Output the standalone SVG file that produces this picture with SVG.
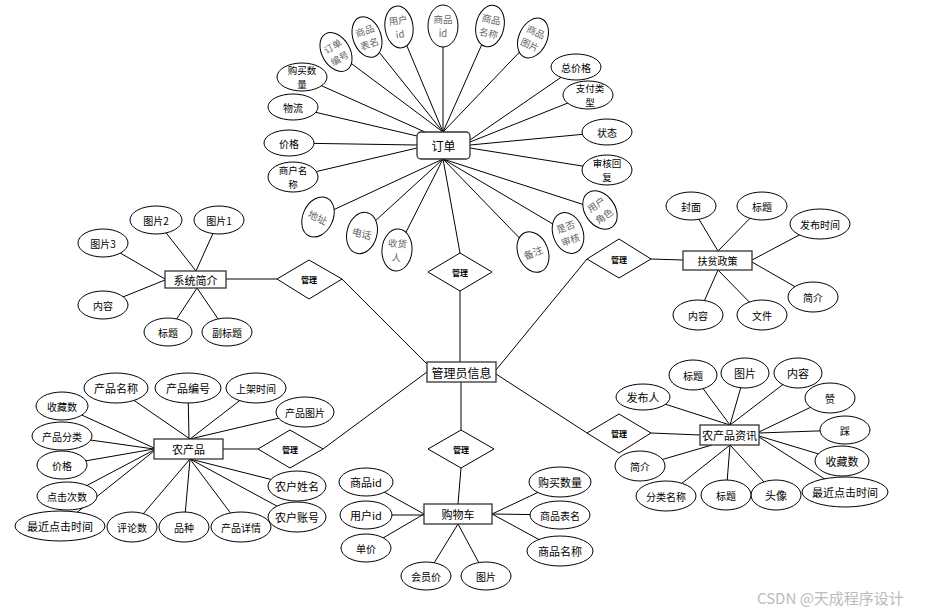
<svg xmlns="http://www.w3.org/2000/svg" width="932" height="612" viewBox="0 0 932 612">
<style>
.e{fill:#fff;stroke:#000;stroke-width:1}
.b{fill:#fff;stroke:#333;stroke-width:1.3}
.d{fill:#fff;stroke:#000;stroke-width:1}
.c line{stroke:#000;stroke-width:1}
text{font-family:"Noto Sans CJK SC","Noto Sans",sans-serif;font-size:11px;fill:#000;text-anchor:middle;dominant-baseline:central}
.g{fill:#666}
.t2{font-size:9.5px}
.m{font-size:8px;font-weight:bold}
.k{font-size:12px}
.s{font-size:10px}
.w{fill:#bbb;font-size:15px;text-anchor:start}
</style>
<rect width="932" height="612" fill="#fff"/>
<g id="connectors" class="c">
<line x1="336" y1="52" x2="443" y2="132"/>
<line x1="367" y1="37" x2="443" y2="132"/>
<line x1="399" y1="27" x2="443" y2="132"/>
<line x1="443" y1="26" x2="443" y2="132"/>
<line x1="490" y1="26" x2="443" y2="132"/>
<line x1="533" y1="38" x2="443" y2="132"/>
<line x1="302" y1="77" x2="425" y2="132"/>
<line x1="293" y1="107" x2="417" y2="136"/>
<line x1="576" y1="67" x2="470" y2="140"/>
<line x1="588" y1="95" x2="470" y2="142"/>
<line x1="289" y1="143" x2="417" y2="145"/>
<line x1="293" y1="177" x2="417" y2="148"/>
<line x1="607" y1="132" x2="470" y2="145"/>
<line x1="607" y1="170" x2="470" y2="148"/>
<line x1="318" y1="217" x2="443" y2="159"/>
<line x1="362" y1="233" x2="443" y2="159"/>
<line x1="397" y1="250" x2="443" y2="159"/>
<line x1="533" y1="252" x2="443" y2="159"/>
<line x1="568" y1="233" x2="443" y2="159"/>
<line x1="600" y1="210" x2="443" y2="159"/>
<line x1="443" y1="159" x2="460" y2="253"/>
<line x1="460" y1="291" x2="460" y2="362"/>
<line x1="342" y1="279" x2="427" y2="364"/>
<line x1="323" y1="449" x2="427" y2="372"/>
<line x1="496" y1="370" x2="587" y2="259"/>
<line x1="496" y1="374" x2="587" y2="433"/>
<line x1="461" y1="382" x2="461" y2="430"/>
<line x1="461" y1="468" x2="458" y2="504"/>
<line x1="226" y1="279" x2="277" y2="279"/>
<line x1="156" y1="220" x2="196" y2="271"/>
<line x1="219" y1="220" x2="196" y2="271"/>
<line x1="103" y1="243" x2="165" y2="279"/>
<line x1="103" y1="305" x2="165" y2="280"/>
<line x1="168" y1="332" x2="197" y2="288"/>
<line x1="227" y1="332" x2="197" y2="288"/>
<line x1="651" y1="259" x2="683" y2="260"/>
<line x1="691" y1="206" x2="718" y2="251"/>
<line x1="762" y1="206" x2="718" y2="251"/>
<line x1="820" y1="224" x2="752" y2="260"/>
<line x1="813" y1="297" x2="752" y2="262"/>
<line x1="698" y1="315" x2="718" y2="270"/>
<line x1="762" y1="315" x2="718" y2="270"/>
<line x1="651" y1="433" x2="700" y2="435"/>
<line x1="643" y1="397" x2="730" y2="425"/>
<line x1="693" y1="375" x2="730" y2="425"/>
<line x1="745" y1="373" x2="730" y2="425"/>
<line x1="798" y1="373" x2="730" y2="425"/>
<line x1="830" y1="398" x2="759" y2="432"/>
<line x1="845" y1="430" x2="759" y2="433"/>
<line x1="842" y1="461" x2="759" y2="436"/>
<line x1="845" y1="492" x2="759" y2="437"/>
<line x1="776" y1="495" x2="730" y2="445"/>
<line x1="726" y1="495" x2="730" y2="445"/>
<line x1="666" y1="496" x2="730" y2="445"/>
<line x1="640" y1="466" x2="712" y2="445"/>
<line x1="223" y1="449" x2="258" y2="449"/>
<line x1="116" y1="388" x2="190" y2="439"/>
<line x1="188" y1="388" x2="189" y2="439"/>
<line x1="256" y1="388" x2="190" y2="439"/>
<line x1="305" y1="412" x2="190" y2="439"/>
<line x1="62" y1="406" x2="154" y2="448"/>
<line x1="62" y1="436" x2="154" y2="449"/>
<line x1="62" y1="465" x2="154" y2="449"/>
<line x1="67" y1="496" x2="154" y2="450"/>
<line x1="60" y1="526" x2="154" y2="451"/>
<line x1="132" y1="527" x2="190" y2="459"/>
<line x1="184" y1="527" x2="190" y2="459"/>
<line x1="241" y1="527" x2="190" y2="459"/>
<line x1="297" y1="486" x2="190" y2="459"/>
<line x1="297" y1="517" x2="190" y2="459"/>
<line x1="366" y1="482" x2="424" y2="514"/>
<line x1="366" y1="515" x2="424" y2="515"/>
<line x1="366" y1="548" x2="424" y2="514"/>
<line x1="426" y1="576" x2="458" y2="524"/>
<line x1="486" y1="576" x2="458" y2="524"/>
<line x1="560" y1="482" x2="492" y2="514"/>
<line x1="560" y1="515" x2="492" y2="514"/>
<line x1="560" y1="551" x2="492" y2="514"/>
</g>

<g id="order">
<rect class="b" x="417" y="132" width="53" height="27" rx="4"/>
<text x="443.5" y="145.5" class="k">订单</text>
</g>
<g id="order-attrs">
<g transform="translate(336,52) rotate(-30)"><ellipse class="e" rx="14" ry="21"/><text class="g t2"><tspan x="0" y="-7">订单</tspan><tspan x="0" y="7">编号</tspan></text></g>
<g transform="translate(367,37) rotate(-20)"><ellipse class="e" rx="14" ry="21"/><text class="g t2"><tspan x="0" y="-7">商品</tspan><tspan x="0" y="7">表名</tspan></text></g>
<g transform="translate(399,27) rotate(-8)"><ellipse class="e" rx="14" ry="21"/><text class="g t2"><tspan x="0" y="-7">用户</tspan><tspan x="0" y="7">id</tspan></text></g>
<g transform="translate(443,26)"><ellipse class="e" rx="15" ry="21"/><text class="g t2"><tspan x="0" y="-7">商品</tspan><tspan x="0" y="7">id</tspan></text></g>
<g transform="translate(490,26) rotate(12)"><ellipse class="e" rx="14" ry="21"/><text class="g t2"><tspan x="0" y="-7">商品</tspan><tspan x="0" y="7">名称</tspan></text></g>
<g transform="translate(533,38) rotate(25)"><ellipse class="e" rx="14" ry="21"/><text class="g t2"><tspan x="0" y="-7">商品</tspan><tspan x="0" y="7">图片</tspan></text></g>
<g><ellipse class="e" cx="302" cy="77" rx="25" ry="14"/><text class="t2"><tspan x="302" y="70">购买数</tspan><tspan x="302" y="84">量</tspan></text></g>
<g><ellipse class="e" cx="293" cy="107" rx="25" ry="13"/><text x="293" y="107" class="s">物流</text></g>
<g><ellipse class="e" cx="289" cy="143" rx="25" ry="13"/><text x="289" y="143" class="s">价格</text></g>
<g><ellipse class="e" cx="293" cy="177" rx="25" ry="15"/><text class="t2"><tspan x="293" y="170">商户名</tspan><tspan x="293" y="184">称</tspan></text></g>
<g><ellipse class="e" cx="576" cy="67" rx="25" ry="13"/><text x="576" y="67" class="s">总价格</text></g>
<g><ellipse class="e" cx="588" cy="95" rx="25" ry="14"/><text class="t2"><tspan x="590" y="88">支付类</tspan><tspan x="590" y="102">型</tspan></text></g>
<g><ellipse class="e" cx="607" cy="132" rx="25" ry="13"/><text x="607" y="132" class="s">状态</text></g>
<g><ellipse class="e" cx="607" cy="170" rx="25" ry="15"/><text class="t2"><tspan x="607" y="163">审核回</tspan><tspan x="607" y="177">复</tspan></text></g>
<g transform="translate(318,217) rotate(25)"><ellipse class="e" rx="15" ry="21"/><text class="g s" x="0" y="0">地址</text></g>
<g transform="translate(362,233) rotate(15)"><ellipse class="e" rx="15" ry="21"/><text class="g s" x="0" y="0">电话</text></g>
<g transform="translate(397,250) rotate(5)"><ellipse class="e" rx="15" ry="21"/><text class="g t2"><tspan x="0" y="-7">收货</tspan><tspan x="0" y="7">人</tspan></text></g>
<g transform="translate(533,252) rotate(-22)"><ellipse class="e" rx="15" ry="21"/><text class="g s" x="0" y="0">备注</text></g>
<g transform="translate(568,233) rotate(-20)"><ellipse class="e" rx="15" ry="21"/><text class="g t2"><tspan x="0" y="-7">是否</tspan><tspan x="0" y="7">审核</tspan></text></g>
<g transform="translate(600,210) rotate(-35)"><ellipse class="e" rx="15" ry="21"/><text class="g t2"><tspan x="0" y="-7">用户</tspan><tspan x="0" y="7">角色</tspan></text></g>
</g>
<g id="rel-order"><polygon class="d" points="460,253 492,272 460,291 428,272"/><text x="460" y="272" class="m">管理</text></g>

<g id="admin"><rect class="b" x="427" y="362" width="69" height="20"/><text x="461.5" y="372" class="k">管理员信息</text></g>

<g id="sys"><rect class="b" x="165" y="271" width="61" height="17"/><text x="195.5" y="279.5">系统简介</text></g>
<g id="rel-sys"><polygon class="d" points="309,260 342,279 309,299 277,279"/><text x="309" y="279" class="m">管理</text></g>
<g id="sys-attrs">
<ellipse class="e" cx="156" cy="220" rx="26" ry="14"/><text x="156" y="220" class="s">图片2</text>
<ellipse class="e" cx="219" cy="220" rx="25" ry="14"/><text x="219" y="220" class="s">图片1</text>
<ellipse class="e" cx="103" cy="243" rx="25" ry="14"/><text x="103" y="243" class="s">图片3</text>
<ellipse class="e" cx="103" cy="305" rx="25" ry="14"/><text x="103" y="305" class="s">内容</text>
<ellipse class="e" cx="168" cy="332" rx="24" ry="14"/><text x="168" y="332" class="s">标题</text>
<ellipse class="e" cx="227" cy="332" rx="25" ry="14"/><text x="227" y="332" class="s">副标题</text>
</g>

<g id="policy"><rect class="b" x="683" y="251" width="69" height="19"/><text x="717.5" y="260.5" class="s">扶贫政策</text></g>
<g id="rel-policy"><polygon class="d" points="619,239 651,259 619,278 587,259"/><text x="619" y="259" class="m">管理</text></g>
<g id="policy-attrs">
<ellipse class="e" cx="691" cy="206" rx="25" ry="14"/><text x="691" y="206" class="s">封面</text>
<ellipse class="e" cx="762" cy="206" rx="25" ry="14"/><text x="762" y="206" class="s">标题</text>
<ellipse class="e" cx="820" cy="224" rx="30" ry="15"/><text x="820" y="224" class="s">发布时间</text>
<ellipse class="e" cx="813" cy="297" rx="25" ry="15"/><text x="813" y="297" class="s">简介</text>
<ellipse class="e" cx="698" cy="315" rx="25" ry="15"/><text x="698" y="315" class="s">内容</text>
<ellipse class="e" cx="762" cy="315" rx="25" ry="15"/><text x="762" y="315" class="s">文件</text>
</g>

<g id="news"><rect class="b" x="700" y="425" width="59" height="20"/><text x="729.5" y="435">农产品资讯</text></g>
<g id="rel-news"><polygon class="d" points="619,414 651,433 619,453 587,433"/><text x="619" y="433" class="m">管理</text></g>
<g id="news-attrs">
<ellipse class="e" cx="643" cy="397" rx="27" ry="13"/><text x="643" y="397">发布人</text>
<ellipse class="e" cx="693" cy="375" rx="24" ry="15"/><text x="693" y="375" class="s">标题</text>
<ellipse class="e" cx="745" cy="373" rx="24" ry="15"/><text x="745" y="373">图片</text>
<ellipse class="e" cx="798" cy="373" rx="24" ry="15"/><text x="798" y="373">内容</text>
<ellipse class="e" cx="830" cy="398" rx="25" ry="15"/><text x="830" y="398" class="s">赞</text>
<ellipse class="e" cx="845" cy="430" rx="25" ry="14"/><text x="845" y="430" class="s">踩</text>
<ellipse class="e" cx="842" cy="461" rx="27" ry="15"/><text x="842" y="461">收藏数</text>
<ellipse class="e" cx="845" cy="492" rx="43" ry="15"/><text x="845" y="492">最近点击时间</text>
<ellipse class="e" cx="776" cy="495" rx="25" ry="15"/><text x="776" y="495">头像</text>
<ellipse class="e" cx="726" cy="495" rx="25" ry="15"/><text x="726" y="495" class="s">标题</text>
<ellipse class="e" cx="666" cy="496" rx="30" ry="15"/><text x="666" y="496" class="s">分类名称</text>
<ellipse class="e" cx="640" cy="466" rx="25" ry="15"/><text x="640" y="466" class="s">简介</text>
</g>

<g id="product"><rect class="b" x="154" y="439" width="69" height="20"/><text x="188.5" y="449">农产品</text></g>
<g id="rel-product"><polygon class="d" points="290,430 323,449 290,468 258,449"/><text x="290" y="449" class="m">管理</text></g>
<g id="product-attrs">
<ellipse class="e" cx="116" cy="388" rx="32" ry="15"/><text x="116" y="388">产品名称</text>
<ellipse class="e" cx="188" cy="388" rx="33" ry="15"/><text x="188" y="388">产品编号</text>
<ellipse class="e" cx="256" cy="388" rx="30" ry="15"/><text x="256" y="388" class="s">上架时间</text>
<ellipse class="e" cx="305" cy="412" rx="29" ry="15"/><text x="305" y="412" class="s">产品图片</text>
<ellipse class="e" cx="62" cy="406" rx="26" ry="14"/><text x="62" y="406" class="s">收藏数</text>
<ellipse class="e" cx="62" cy="436" rx="30" ry="14"/><text x="62" y="436" class="s">产品分类</text>
<ellipse class="e" cx="62" cy="465" rx="25" ry="14"/><text x="62" y="465" class="s">价格</text>
<ellipse class="e" cx="67" cy="496" rx="30" ry="14"/><text x="67" y="496" class="s">点击次数</text>
<ellipse class="e" cx="60" cy="526" rx="45" ry="15"/><text x="60" y="526">最近点击时间</text>
<ellipse class="e" cx="132" cy="527" rx="25" ry="15"/><text x="132" y="527" class="s">评论数</text>
<ellipse class="e" cx="184" cy="527" rx="25" ry="15"/><text x="184" y="527" class="s">品种</text>
<ellipse class="e" cx="241" cy="527" rx="30" ry="15"/><text x="241" y="527" class="s">产品详情</text>
<ellipse class="e" cx="297" cy="486" rx="29" ry="15"/><text x="297" y="486">农户姓名</text>
<ellipse class="e" cx="297" cy="517" rx="29" ry="15"/><text x="297" y="517">农户账号</text>
</g>

<g id="rel-cart"><polygon class="d" points="461,430 494,449 461,468 428,449"/><text x="461" y="449" class="m">管理</text></g>
<g id="cart"><rect class="b" x="424" y="504" width="68" height="20"/><text x="458" y="514">购物车</text></g>
<g id="cart-attrs">
<ellipse class="e" cx="366" cy="482" rx="27" ry="14"/><text x="366" y="482">商品id</text>
<ellipse class="e" cx="366" cy="515" rx="26" ry="14"/><text x="366" y="515">用户id</text>
<ellipse class="e" cx="366" cy="548" rx="25" ry="14"/><text x="366" y="548" class="s">单价</text>
<ellipse class="e" cx="426" cy="576" rx="25" ry="14"/><text x="426" y="576" class="s">会员价</text>
<ellipse class="e" cx="486" cy="576" rx="25" ry="14"/><text x="486" y="576" class="s">图片</text>
<ellipse class="e" cx="560" cy="482" rx="31" ry="15"/><text x="560" y="482">购买数量</text>
<ellipse class="e" cx="560" cy="515" rx="30" ry="14"/><text x="560" y="515" class="s">商品表名</text>
<ellipse class="e" cx="560" cy="551" rx="33" ry="15"/><text x="560" y="551">商品名称</text>
</g>

<text x="757" y="597" class="w">CSDN @天成程序设计</text>
</svg>
